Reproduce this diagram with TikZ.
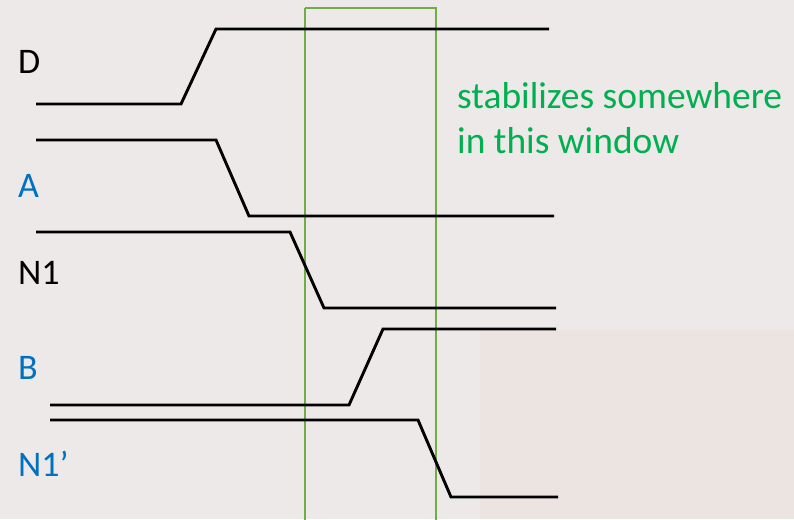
\documentclass[tikz,border=0pt]{standalone}
\usepackage{fontspec}
\setmainfont{Carlito}
\definecolor{bgc}{HTML}{EDE9E8}
\definecolor{bgwarm}{HTML}{ECE4E0}
\definecolor{winc}{HTML}{70AD47}
\definecolor{txtg}{HTML}{00B050}
\definecolor{lblue}{HTML}{0070C0}
\tikzset{
  wave/.style={line width=2.9pt, black, line join=miter},
  lbl/.style={anchor=base west, inner sep=0pt, font=\fontsize{36}{42}\selectfont},
  winbox/.style={draw=winc, line width=2pt},
  note/.style={anchor=base west, inner sep=0pt, text=txtg, font=\fontsize{37.5}{44}\selectfont},
}
\begin{document}
\begin{tikzpicture}[x=1pt,y=-1pt]
\useasboundingbox (0,0) rectangle (794,519);
\fill[bgc] (0,0) rectangle (794,519);
\fill[bgwarm] (480,330) rectangle (794,519);
% labels
\node[lbl] (lD) at (18,74) {D};
\node[lbl, text=lblue] (lA) at (18,197) {A};
\node[lbl] (lN1) at (18,284) {N1};
\node[lbl, text=lblue] (lB) at (18,379) {B};
\node[lbl, text=lblue] (lN1p) at (18,476) {N1’};
% window
\draw[winbox] (304.5,8.5) -- (304.5,525) (304.5,8.5) -- (436,8.5) -- (436,525);
\node[note] (note) at (457,108) {stabilizes somewhere};
\node[note] (note2) at (457,153) {in this window};
% waveforms
\draw[wave] (36,104) -- (181,104) -- (216,29) -- (549,29);
\draw[wave] (36,140) -- (216,140) -- (249,216) -- (554,216);
\draw[wave] (36,232) -- (290,232) -- (324,308) -- (556,308);
\draw[wave] (50,405) -- (349,405) -- (383,329) -- (556,329);
\draw[wave] (50,420) -- (418,420) -- (451,497) -- (558,497);
\end{tikzpicture}
\end{document}
